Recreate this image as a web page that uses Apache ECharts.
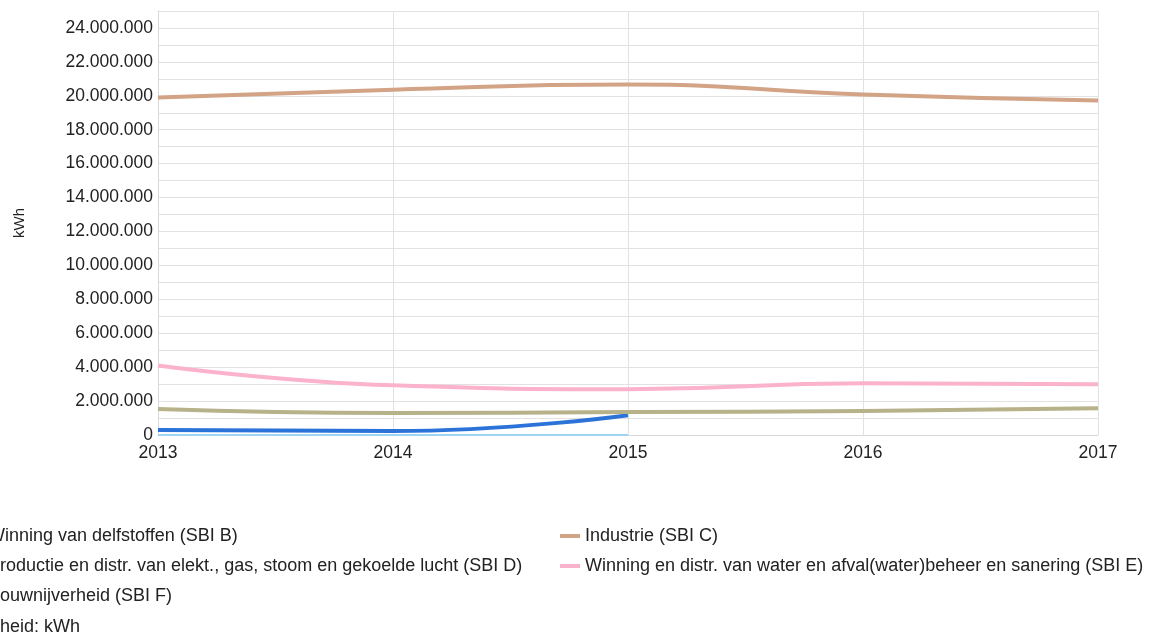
<!DOCTYPE html>
<html>
<head>
<meta charset="utf-8">
<script src="https://cdn.jsdelivr.net/npm/echarts@6/dist/echarts.min.js"></script>
<style>
  html, body { margin: 0; padding: 0; background: #fff; }
  #chart { width: 1150px; height: 637px; }
</style>
</head>
<body>
<div id="chart"></div>
<script>
// Elektriciteitsverbruik per sector (kWh)
const years = ['2013', '2014', '2015', '2016', '2017'];

const sbiB = [290000, 230000, 1170000, null, null];
const sbiC = [19900000, 20360000, 20660000, 20070000, 19720000];
const sbiD = [0, 0, 0, null, null];
const sbiE = [4100000, 2930000, 2700000, 3050000, 2990000];
const sbiF = [1530000, 1290000, 1350000, 1410000, 1580000];

const names = {
  B: 'Winning van delfstoffen (SBI B)',
  C: 'Industrie (SBI C)',
  D: 'Productie en distr. van elekt., gas, stoom en gekoelde lucht (SBI D)',
  E: 'Winning en distr. van water en afval(water)beheer en sanering (SBI E)',
  F: 'Bouwnijverheid (SBI F)'
};

const colors = {
  B: '#2b73d8',
  C: '#d3a386',
  D: '#9fd4f2',
  E: '#fbb2cc',
  F: '#b7b28a'
};

const FONT = '"Liberation Sans", Arial, sans-serif';
const TEXT = '#222';

function fmt(v) {
  return String(v).replace(/\B(?=(\d{3})+(?!\d))/g, '.');
}

function line(key, data, width) {
  return {
    name: names[key],
    type: 'line',
    data: data,
    smooth: true,
    symbol: 'none',
    color: colors[key],
    lineStyle: { width: width, color: colors[key] },
    connectNulls: false
  };
}

const chart = echarts.init(document.getElementById('chart'), null, { renderer: 'canvas' });

const legendBase = {
  orient: 'vertical',
  icon: 'rect',
  itemWidth: 20,
  itemHeight: 4,
  itemGap: 10,
  top: 521,
  textStyle: { fontFamily: FONT, fontSize: 18, color: TEXT, lineHeight: 20 },
  selectedMode: false
};

chart.setOption({
  animation: false,
  textStyle: { fontFamily: FONT },
  grid: { left: 158, right: 52, top: 11, bottom: 202, containLabel: false },
  legend: [
    Object.assign({}, legendBase, { left: -42, data: [names.B, names.D, names.F] }),
    Object.assign({}, legendBase, { left: 555, data: [names.C, names.E] })
  ],
  graphic: [{
    type: 'text',
    left: -32,
    top: 618,
    style: { text: 'Eenheid: kWh', font: '18px ' + FONT, fill: TEXT }
  }],
  xAxis: {
    type: 'category',
    data: years,
    boundaryGap: false,
    axisLine: { lineStyle: { color: '#d8d8d8', width: 1 } },
    axisTick: { show: false },
    axisLabel: { color: TEXT, fontSize: 17.5, fontFamily: FONT, margin: 9 },
    splitLine: { show: true, lineStyle: { color: '#e2e2e2', width: 1 } }
  },
  yAxis: {
    type: 'value',
    min: 0,
    max: 25000000,
    interval: 1000000,
    name: 'kWh',
    nameLocation: 'middle',
    nameGap: 131,
    nameRotate: 90,
    nameTextStyle: { color: TEXT, fontSize: 15, fontFamily: FONT },
    axisLine: { show: true, lineStyle: { color: '#d8d8d8', width: 1 } },
    axisTick: { show: false },
    axisLabel: {
      color: TEXT,
      fontSize: 17.5,
      fontFamily: FONT,
      margin: 5,
      formatter: v => (v % 2000000 === 0 && v <= 24000000) ? fmt(v) : ''
    },
    splitLine: { show: true, lineStyle: { color: '#e2e2e2', width: 1 } }
  },
  series: [
    line('B', sbiB, 4),
    line('C', sbiC, 4),
    line('D', sbiD, 2),
    line('E', sbiE, 4),
    line('F', sbiF, 4)
  ]
});
</script>
</body>
</html>
